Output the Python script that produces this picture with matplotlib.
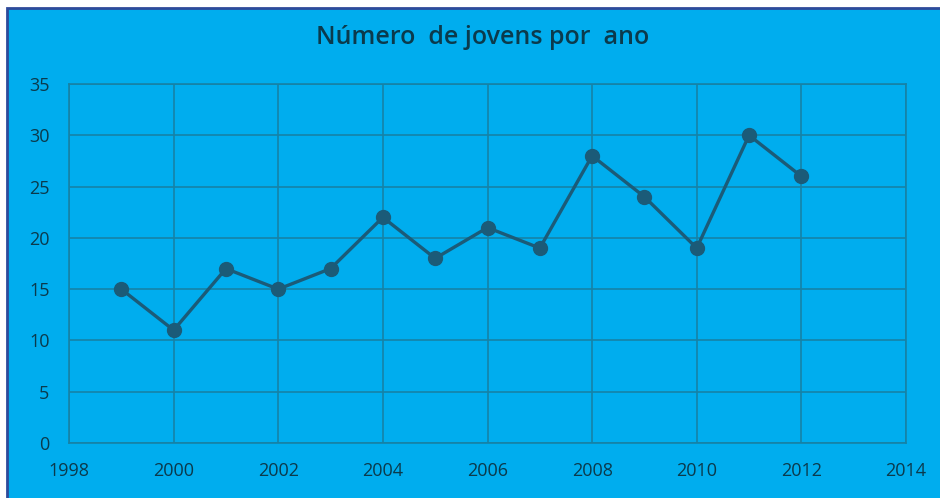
import matplotlib.pyplot as plt
from matplotlib.patches import Rectangle

# Number of young people per year
years = [1999, 2000, 2001, 2002, 2003, 2004, 2005, 2006, 2007, 2008, 2009, 2010, 2011, 2012]
counts = [15, 11, 17, 15, 17, 22, 18, 21, 19, 28, 24, 19, 30, 26]
x_ticks = [1998, 2000, 2002, 2004, 2006, 2008, 2010, 2012, 2014]
y_ticks = [0, 5, 10, 15, 20, 25, 30, 35]

BG = '#00adee'
GRID = '#1682a6'
TEXT = '#0b3a4c'
LINE = '#1b5b78'

plt.rcParams['font.family'] = ['Open Sans', 'DejaVu Sans']

fig = plt.figure(figsize=(9.4, 4.98), dpi=100, facecolor='white')

# blue chart area with a dark border on the top and left
bg = Rectangle((7 / 940, -0.05), 1, 1.05 - 8 / 498, transform=fig.transFigure,
               facecolor=BG, edgecolor='#2e4a9a', linewidth=2, zorder=-5)
fig.add_artist(bg)

ax = fig.add_axes([69 / 940, 1 - 443 / 498, (906 - 69) / 940, (443 - 84) / 498])
ax.set_zorder(2)
ax.patch.set_alpha(0)

ax.plot(years, counts, color=LINE, linewidth=2.4, marker='o', markersize=10,
        zorder=3, clip_on=False)

ax.set_xlim(1998, 2014)
ax.set_ylim(0, 35)
ax.set_xticks(x_ticks)
ax.set_yticks(y_ticks)
ax.grid(True, color=GRID, linewidth=1.2)
ax.set_axisbelow(True)
for s in ax.spines.values():
    s.set_color(GRID)
    s.set_linewidth(1.2)

ax.tick_params(length=0, labelsize=13, labelcolor=TEXT)
ax.tick_params(axis='x', pad=14)
ax.tick_params(axis='y', pad=14)
for lbl in ax.get_xticklabels() + ax.get_yticklabels():
    lbl.set_fontweight('medium')

fig.text(483 / 940, 1 - 37 / 498, 'Número  de jovens por  ano', ha='center', va='center',
         fontsize=18, fontweight='semibold', color=TEXT, zorder=3)

fig.savefig('out.png', dpi=100, facecolor=fig.get_facecolor())
